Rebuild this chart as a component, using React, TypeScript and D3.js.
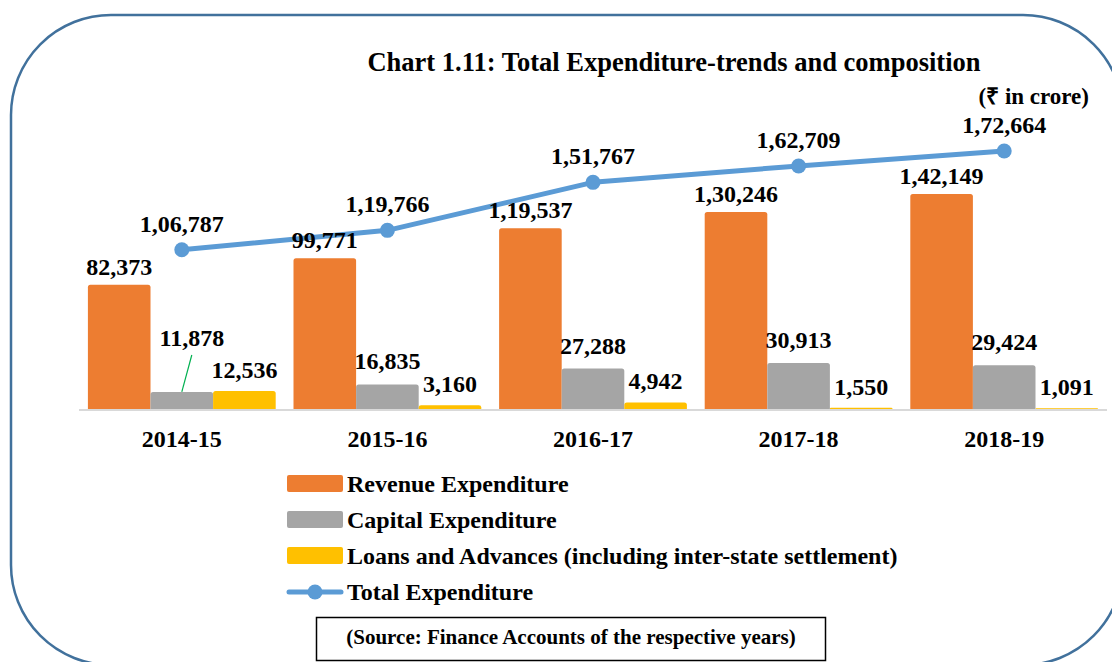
import * as d3 from "d3";

const years = ["2014-15", "2015-16", "2016-17", "2017-18", "2018-19"];
const revenue = [82373, 99771, 119537, 130246, 142149];
const capital = [11878, 16835, 27288, 30913, 29424];
const loans = [12536, 3160, 4942, 1550, 1091];
const total = [106787, 119766, 151767, 162709, 172664];

const barSeries = [
  { name: "Revenue Expenditure", values: revenue, color: "#ED7D31", dy: -10 },
  { name: "Capital Expenditure", values: capital, color: "#A5A5A5", dy: -15 },
  { name: "Loans and Advances (including inter-state settlement)", values: loans, color: "#FFC000", dy: -13 },
];
const lineName = "Total Expenditure";
const lineColor = "#5B9BD5";

const W = 1112;
const H = 662;
const FONT = '"Liberation Serif", "Times New Roman", Times, serif';

// indian digit grouping, 1,06,787
function fmtIN(n: number) {
  const s = String(Math.round(n));
  if (s.length <= 3) return s;
  const last3 = s.slice(-3);
  let rest = s.slice(0, -3);
  const parts: string[] = [];
  while (rest.length > 2) {
    parts.unshift(rest.slice(-2));
    rest = rest.slice(0, -2);
  }
  if (rest) parts.unshift(rest);
  return parts.join(",") + "," + last3;
}

export default function App() {
  const baseY = 410;
  const x0 = d3.scaleBand<string>().domain(years).range([79, 1107]).paddingInner(0.0866).paddingOuter(0.0433);
  const x1 = d3.scaleBand<string>().domain(barSeries.map((s) => s.name)).range([0, x0.bandwidth()]);
  const yBar = d3.scaleLinear().domain([0, 200000]).range([baseY, baseY - 304]);
  const yLine = d3.scaleLinear().domain([0, 200000]).range([baseY, baseY - 300]);
  const cx = (y: string) => (x0(y) ?? 0) + x0.bandwidth() / 2;

  const line = d3
    .line<number>()
    .x((_, i) => cx(years[i]))
    .y((d) => yLine(d));

  const legendX = 287;
  const legendY = [483.5, 519.5, 555.5, 592];
  const capX0 = (x0(years[0]) ?? 0) + (x1(barSeries[1].name) ?? 0) + x1.bandwidth() / 2;

  return (
    <svg width={W} height={H} style={{ position: "absolute", left: 0, top: 0, background: "#fff", fontFamily: FONT }}>
      <rect x={11} y={15} width={1112} height={650} rx={100} ry={100} fill="none" stroke="#41719C" strokeWidth={2.5} />

      <text x={674} y={71} textAnchor="middle" fontSize={26.5} fontWeight="bold">
        Chart 1.11: Total Expenditure-trends and composition
      </text>
      <text x={1089} y={104} textAnchor="end" fontSize={23} fontWeight="bold">
        (₹ in crore)
      </text>

      {/* bars */}
      {years.map((yr, i) => (
        <g key={yr} transform={`translate(${x0(yr)},0)`}>
          {barSeries.map((s) => (
            <path
              key={s.name}
              d={(() => {
                const bx = x1(s.name) ?? 0;
                const bw = x1.bandwidth();
                const top = yBar(s.values[i]);
                const r = Math.min(2.5, (baseY - top) / 2);
                return `M${bx},${baseY}V${top + r}Q${bx},${top} ${bx + r},${top}H${bx + bw - r}Q${bx + bw},${top} ${bx + bw},${top + r}V${baseY}Z`;
              })()}
              fill={s.color}
            />
          ))}
        </g>
      ))}

      <line x1={79} x2={1107} y1={baseY} y2={baseY} stroke="#D9D9D9" strokeWidth={2} />

      {/* total line */}
      <path d={line(total) ?? ""} fill="none" stroke={lineColor} strokeWidth={5} strokeLinejoin="round" />
      {total.map((v, i) => (
        <circle key={years[i]} cx={cx(years[i])} cy={yLine(v)} r={7.5} fill={lineColor} />
      ))}

      {/* bar labels */}
      {years.map((yr, i) =>
        barSeries.map((s, k) => {
          const bx = (x0(yr) ?? 0) + (x1(s.name) ?? 0) + x1.bandwidth() / 2;
          const top = yBar(s.values[i]);
          const moved = k === 1 && i === 0;
          return (
            <text
              key={yr + s.name}
              x={moved ? bx + 10 : bx}
              y={moved ? 346 : top + s.dy}
              textAnchor="middle"
              fontSize={24}
              fontWeight="bold"
            >
              {fmtIN(s.values[i])}
            </text>
          );
        })
      )}
      {/* leader line for the moved 11,878 label */}
      <line x1={capX0 + 10} y1={355} x2={capX0} y2={yBar(capital[0])} stroke="#00B050" strokeWidth={1.2} />

      {total.map((v, i) => (
        <text key={years[i]} x={cx(years[i])} y={yLine(v) - 18} textAnchor="middle" fontSize={24} fontWeight="bold">
          {fmtIN(v)}
        </text>
      ))}

      {/* category axis labels */}
      {years.map((yr) => (
        <text key={yr} x={cx(yr)} y={447} textAnchor="middle" fontSize={24} fontWeight="bold">
          {yr}
        </text>
      ))}

      {/* legend */}
      {barSeries.map((s, k) => (
        <g key={s.name}>
          <rect x={legendX} y={legendY[k] - 8.5} width={56} height={17} rx={2} fill={s.color} />
          <text x={legendX + 60} y={legendY[k] + 8} fontSize={24} fontWeight="bold">
            {s.name}
          </text>
        </g>
      ))}
      <g>
        <line x1={legendX + 2} x2={legendX + 54} y1={legendY[3]} y2={legendY[3]} stroke={lineColor} strokeWidth={5} strokeLinecap="round" />
        <circle cx={legendX + 28} cy={legendY[3]} r={7.5} fill={lineColor} />
        <text x={legendX + 60} y={legendY[3] + 8} fontSize={24} fontWeight="bold">
          {lineName}
        </text>
      </g>

      {/* source box */}
      <rect x={316.5} y={617.5} width={509} height={43} fill="#fff" stroke="#000" strokeWidth={1.5} />
      <text x={571} y={644} textAnchor="middle" fontSize={21} fontWeight="bold">
        (Source: Finance Accounts of the respective years)
      </text>
    </svg>
  );
}
